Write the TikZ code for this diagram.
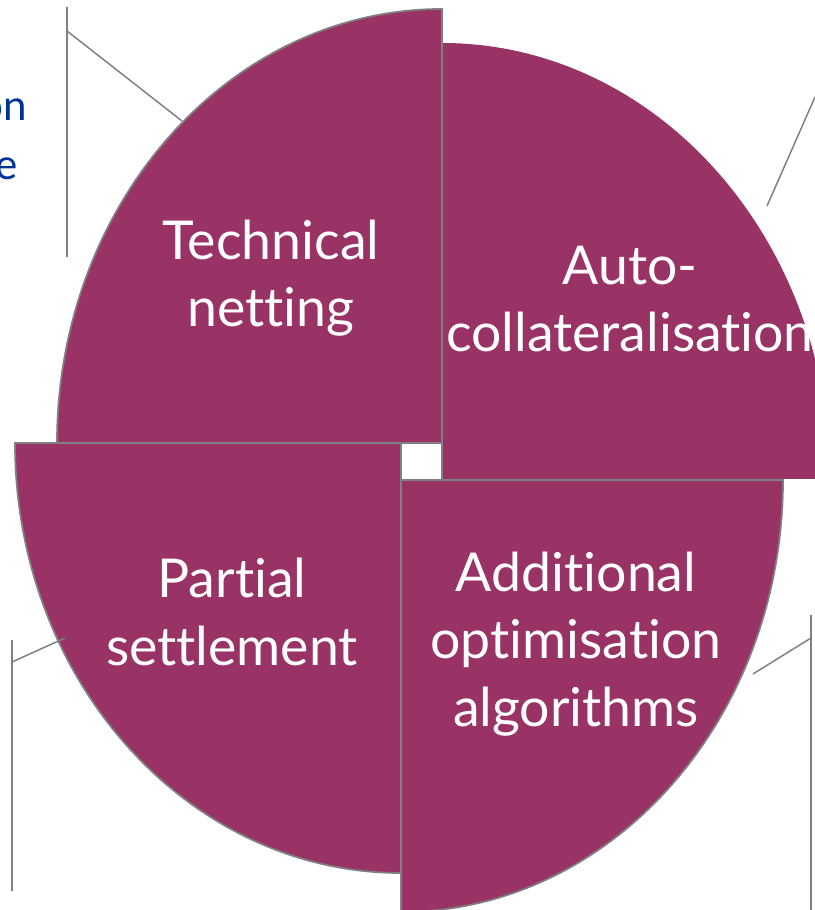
\documentclass[tikz,border=0pt]{standalone}
\usepackage{fontspec}
\setmainfont{Lato}[Ligatures=NoCommon]
\definecolor{plum}{RGB}{153,51,102}
\definecolor{leadgrey}{RGB}{128,128,128}
\definecolor{hintblue}{RGB}{0,51,153}
\begin{document}
\begin{tikzpicture}[x=0.02cm,y=0.02cm,
	quarter/.style={fill=plum,draw=leadgrey,line width=1pt},
	lever/.style={draw=leadgrey,line width=0.85pt},
	wtext/.style={text=white,align=center,inner sep=0pt,font=\fontsize{30.5}{38.5}\selectfont},
	btext/.style={text=hintblue,inner sep=0pt,anchor=base east,font=\fontsize{24}{32}\selectfont}]
	    \useasboundingbox (0,0) rectangle (815,910);
	    \clip (0,0) rectangle (815,910);
	    \fill[plum] (442,431) -- (442,867) arc[start angle=90,end angle=0,x radius=388,y radius=436] -- cycle;
	    \draw[lever] (442,431) -- (442,867);
	    \draw[quarter] (442,467) -- (442,901) arc[start angle=90,end angle=180,x radius=385,y radius=434] -- cycle;
	    \draw[quarter] (401,467) -- (15,467) arc[start angle=180,end angle=270,x radius=386,y radius=430] -- cycle;
	    \draw[quarter] (401,430) -- (783,430) arc[start angle=0,end angle=-90,x radius=382,y radius=432] -- cycle;
	    \node[wtext] (TN) at (271,632) {Technical\\netting};
	    \node[wtext] (AC) at (630,611) {Auto-\\collateralisation};
	    \node[wtext] (PS) at (232,298) {Partial\\settlement};
	    \node[wtext] (AO) at (576,266) {Additional\\optimisation\\algorithms};
	    \node[btext] (H1) at (27,789) {on};
	    \node[btext] (H2) at (18,730) {e};
	    \coordinate (TNa) at (67,903);
	    \coordinate (TNb) at (67,653);
	    \coordinate (TNk) at (67,879);
	    \coordinate (TNt) at (182,789);
	    \coordinate (ACk) at (815,813);
	    \coordinate (ACt) at (767,704);
	    \coordinate (PSa) at (12,270);
	    \coordinate (PSb) at (12,19);
	    \coordinate (PSk) at (12,248);
	    \coordinate (PSt) at (65,272);
	    \coordinate (AOa) at (811,295);
	    \coordinate (AOb) at (811,0);
	    \coordinate (AOk) at (811,272);
	    \coordinate (AOt) at (753,236);
	    \draw[lever] (TNa) -- (TNb);
	    \draw[lever] (TNk) -- (TNt);
	    \draw[lever] (ACk) -- (ACt);
	    \draw[lever] (PSa) -- (PSb);
	    \draw[lever] (PSk) -- (PSt);
	    \draw[lever] (AOa) -- (AOb);
	    \draw[lever] (AOk) -- (AOt);
\end{tikzpicture}
\end{document}
